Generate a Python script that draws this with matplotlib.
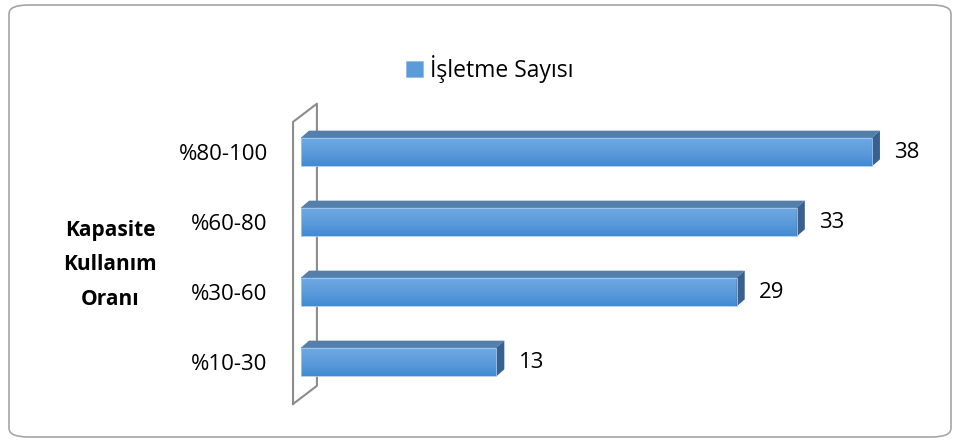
import matplotlib.pyplot as plt
import numpy as np
from matplotlib.patches import Polygon, FancyBboxPatch, Patch
from matplotlib.colors import LinearSegmentedColormap

categories = ['%10-30', '%30-60', '%60-80', '%80-100']
values = [13, 29, 33, 38]
series_name = 'İşletme Sayısı'
axis_title = 'Kapasite\nKullanım\nOranı'

plt.rcParams['font.family'] = ['Open Sans', 'DejaVu Sans']

W, H = 960, 441
fig = plt.figure(figsize=(W / 100, H / 100), dpi=100)

# rounded outer frame
frame = FancyBboxPatch((9 / W, 4 / H), 942 / W, 432 / H,
                       boxstyle='round,pad=0,rounding_size=0.02',
                       transform=fig.transFigure, facecolor='none',
                       edgecolor='#a6a6a6', linewidth=1.2)
fig.patches.append(frame)

# plot area: x=0 at 301px, 15.03 px per unit, bars 70px apart
ax = fig.add_axes([301 / W, (H - 397) / H, 601 / W, 280 / H])
ax.set_facecolor('none')

bar_h = 0.41
dx, dy = 8 / 15.03, 7 / 70  # depth offset in data units
grad = LinearSegmentedColormap.from_list('g', ['#428bd2', '#5d9cdb', '#6eaae3'])
ys = np.arange(len(categories))

for y, v in zip(ys, values):
    y0, y1 = y - bar_h / 2, y + bar_h / 2
    # front face with vertical gradient
    ax.imshow(np.linspace(0, 1, 50).reshape(-1, 1), cmap=grad, origin='lower',
              extent=[0, v, y0, y1], aspect='auto', zorder=3)
    ax.barh(y, v, height=bar_h, facecolor='none', edgecolor='#a9c8ea',
            linewidth=0.6, zorder=4)
    # top face
    ax.add_patch(Polygon([(0, y1), (v, y1), (v + dx, y1 + dy), (dx, y1 + dy)],
                         closed=True, facecolor='#557fab', edgecolor='none', zorder=3))
    # side face
    ax.add_patch(Polygon([(v, y0), (v + dx, y0 + dy), (v + dx, y1 + dy), (v, y1)],
                         closed=True, facecolor='#3a618d', edgecolor='none', zorder=3))
    ax.text(v + 1.5, y, str(v), ha='left', va='center', fontsize=16, color='black')

ax.set_xlim(0, 40)
ax.set_ylim(-0.5, 3.5)

# left wall of the 3D plot
fx, bx = -0.53, 1.06
wall = [(fx, -0.6), (fx, 3.43), (bx, 3.69), (bx, -0.34), (fx, -0.6)]
ax.plot([p[0] for p in wall], [p[1] for p in wall], color='#8c8c8c',
        linewidth=1.5, clip_on=False, zorder=2)

ax.set_xticks([])
ax.set_yticks(ys)
ax.set_yticklabels(categories, fontsize=16)
ax.tick_params(axis='y', length=0, pad=24)
for s in ax.spines.values():
    s.set_visible(False)

fig.text(110 / W, 1 - 265 / H, axis_title, ha='center', va='center',
         fontsize=15, fontweight='bold', linespacing=1.85)

fig.legend(handles=[Patch(facecolor='#5b9bd9', edgecolor='#8fb8e6', linewidth=0.5)],
           labels=[series_name], loc='center',
           bbox_to_anchor=(490 / W, 1 - 69 / H), frameon=False, fontsize=16.5,
           handlelength=0.75, handleheight=0.75, handletextpad=0.3)

fig.savefig('out.png', dpi=100)
